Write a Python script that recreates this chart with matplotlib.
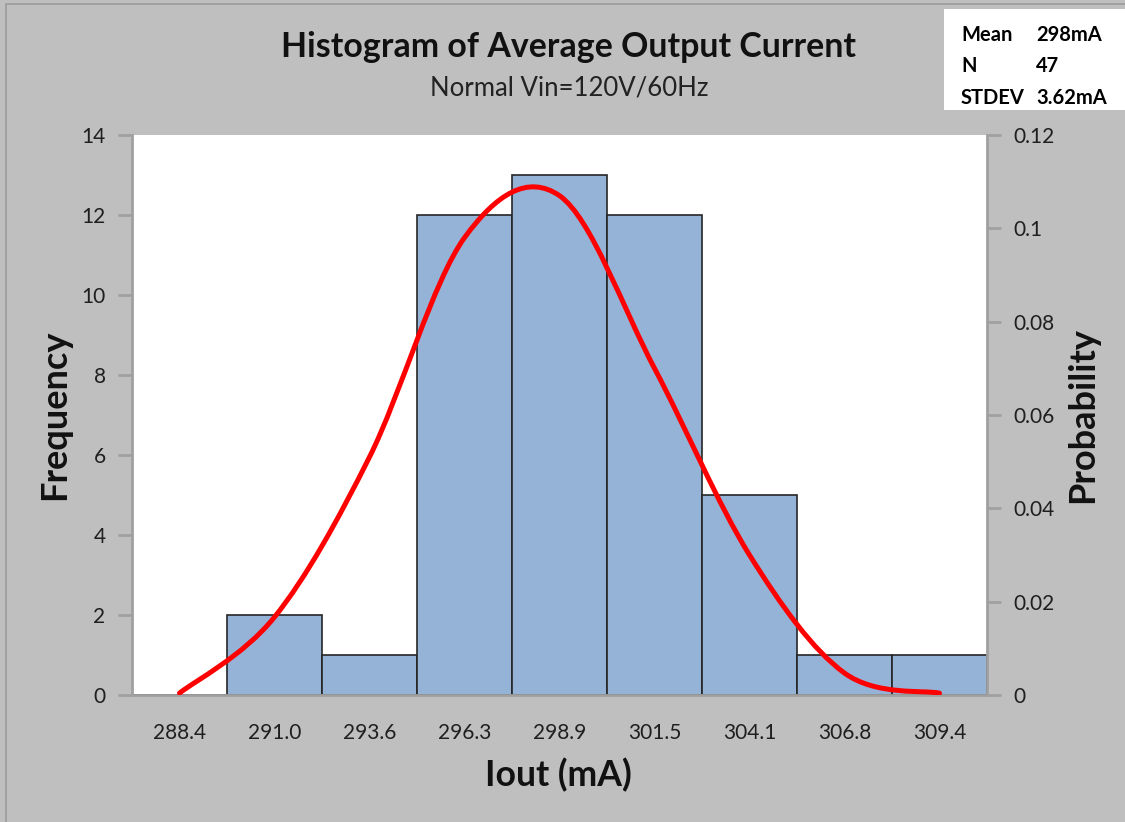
import numpy as np
import matplotlib.pyplot as plt
from matplotlib.path import Path
from matplotlib.patches import PathPatch, Rectangle

plt.rcParams['font.family'] = ['Lato', 'DejaVu Sans']

# histogram data
bins = ['288.4', '291.0', '293.6', '296.3', '298.9', '301.5', '304.1', '306.8', '309.4']
freq = [0, 2, 1, 12, 13, 12, 5, 1, 1]
prob = [0.0004, 0.0167, 0.051, 0.098, 0.107, 0.070, 0.030, 0.0047, 0.0004]

stat_names = ['Mean', 'N', 'STDEV']
stat_values = ['298mA', '47', '3.62mA']

W, H = 1125, 822
fig = plt.figure(figsize=(W / 100, H / 100), dpi=100, facecolor='#BFBFBF')

# chart area border
fig.patches.append(Rectangle((6 / W, -0.01), 1.02, 1 - 4 / H + 0.01, transform=fig.transFigure,
                             facecolor='none', edgecolor='#9C9C9C', linewidth=1.2, zorder=0))

ax = fig.add_axes([132 / W, 1 - 695 / H, (987 - 132) / W, (695 - 135) / H])

x = np.arange(len(bins))
ax.bar(x, freq, width=1.0, color='#95B3D7', edgecolor='#262626', linewidth=1.2, zorder=2)
ax.set_xlim(-0.5, len(bins) - 0.5)
ax.set_ylim(0, 14)
ax.set_yticks(range(0, 15, 2))
ax.set_xticks(x)
ax.set_xticklabels(bins)
ax.tick_params(axis='x', length=0, pad=20, labelsize=15, colors='#1f1f1f')
ax.tick_params(axis='y', length=10, width=2, color='#A0A0A0', pad=9, labelsize=15, labelcolor='#1f1f1f')

ax2 = ax.twinx()
ax2.set_ylim(0, 0.12)
ax2.set_yticks([0, 0.02, 0.04, 0.06, 0.08, 0.1, 0.12])
ax2.set_yticklabels(['0', '0.02', '0.04', '0.06', '0.08', '0.1', '0.12'])
ax2.tick_params(axis='y', length=10, width=2, color='#A0A0A0', pad=9, labelsize=15, labelcolor='#1f1f1f')

for a in (ax, ax2):
    a.spines['top'].set_visible(False)
ax.spines['right'].set_visible(False)
ax2.spines['left'].set_visible(False)
ax2.spines['bottom'].set_visible(False)
for s in [ax.spines['left'], ax.spines['bottom'], ax2.spines['right']]:
    s.set_color('#A0A0A0')
    s.set_linewidth(2)

# smoothed line like excel (catmull-rom bezier through the points)
pts = np.column_stack([x, prob]).astype(float)
ext = np.vstack([pts[0], pts, pts[-1]])
verts = [tuple(pts[0])]
codes = [Path.MOVETO]
for i in range(len(pts) - 1):
    p0, p1, p2, p3 = ext[i], ext[i + 1], ext[i + 2], ext[i + 3]
    c1 = p1 + (p2 - p0) / 6
    c2 = p2 - (p3 - p1) / 6
    verts += [tuple(c1), tuple(c2), tuple(p2)]
    codes += [Path.CURVE4] * 3
ax2.add_patch(PathPatch(Path(verts, codes), facecolor='none', edgecolor='#FF0000',
                        linewidth=3.6, capstyle='round', zorder=3))

# titles and labels
fig.text(568 / W, 1 - 47 / H, 'Histogram of Average Output Current', ha='center', va='center',
         fontsize=24.4, fontweight='bold', color='#111111')
fig.text(569 / W, 1 - 88 / H, 'Normal Vin=120V/60Hz', ha='center', va='center',
         fontsize=18.5, color='#222222')
fig.text(55 / W, 1 - 415 / H, 'Frequency', rotation=90, ha='center', va='center',
         fontsize=26, fontweight='bold', color='#111111')
fig.text(1083 / W, 1 - 415 / H, 'Probability', rotation=90, ha='center', va='center',
         fontsize=26, fontweight='bold', color='#111111')
fig.text(558 / W, 1 - 775 / H, 'Iout (mA)', ha='center', va='center',
         fontsize=25.7, fontweight='bold', color='#111111')

# stats box
fig.patches.append(Rectangle((944 / W, 1 - 110 / H), (W - 944) / W, 101 / H,
                             transform=fig.transFigure, facecolor='white', edgecolor='none',
                             zorder=1))
for i, (n, v) in enumerate(zip(stat_names, stat_values)):
    yy = 1 - (35 + 31.5 * i) / H
    fig.text(961 / W, yy, n, ha='left', va='center', fontsize=14.5, fontweight='bold', color='black')
    fig.text(1036 / W, yy, v, ha='left', va='center', fontsize=14.5, fontweight='bold', color='black')

fig.savefig('out.png', dpi=100, facecolor=fig.get_facecolor())
